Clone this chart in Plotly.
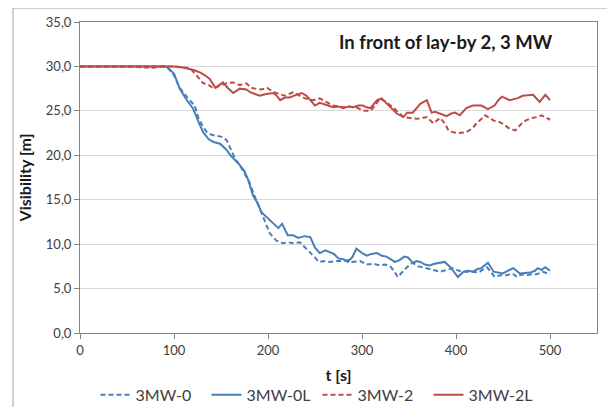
import plotly.graph_objects as go

# 3MW-0 (blue dashed)
t_0 = [0, 92, 100, 106, 115, 122, 126, 131, 135, 140, 145, 150, 156, 161, 165, 170, 175, 180, 185, 190,
       195, 202, 209, 216, 222, 227, 234, 240, 245, 250, 254, 260, 266, 273, 280, 285, 289, 294, 298, 305,
       312, 319, 325, 330, 334, 338, 342, 346, 350, 354, 360, 365, 369, 376, 383, 390, 397, 403, 410, 417,
       424, 428, 433, 437, 441, 447, 454, 460, 465, 470, 475, 480, 486, 492, 498, 500]
v_0 = [30, 30, 29.0, 27.6, 26.4, 25.6, 24.2, 23.2, 22.6, 22.3, 22.2, 22.1, 21.7, 20.6, 19.6, 18.9, 18.0, 17.0, 15.6, 14.3,
       13.0, 11.2, 10.4, 10.1, 10.2, 10.1, 10.2, 9.6, 9.0, 8.5, 8.0, 8.1, 8.0, 8.1, 8.1, 8.2, 8.0, 8.1, 8.1, 7.7,
       7.8, 7.6, 7.7, 7.5, 7.0, 6.3, 6.8, 7.2, 7.6, 7.9, 7.5, 7.4, 7.3, 7.1, 6.9, 7.1, 7.3, 7.0, 6.9, 6.9,
       6.8, 7.1, 7.4, 6.9, 6.3, 6.5, 6.5, 6.7, 6.3, 6.6, 6.5, 6.6, 6.6, 6.9, 6.7, 6.6]

# 3MW-0L (blue solid)
t_0L = [0, 92, 100, 106, 113, 120, 126, 131, 137, 142, 149, 156, 160, 165, 170, 175, 179, 184, 189, 193,
        199, 205, 211, 215, 221, 227, 232, 239, 245, 250, 255, 261, 266, 270, 275, 280, 285, 290, 294, 300,
        305, 310, 316, 321, 326, 331, 335, 340, 345, 349, 354, 358, 362, 367, 372, 377, 381, 388, 394, 398,
        402, 408, 413, 418, 423, 427, 431, 434, 440, 445, 450, 455, 461, 468, 474, 479, 484, 487, 491, 495, 500]
v_0L = [30, 30, 29.2, 27.5, 26.3, 25.3, 23.8, 22.6, 21.8, 21.5, 21.3, 20.6, 20.0, 19.5, 18.9, 18.2, 17.2, 15.5, 14.6, 13.6,
        13.0, 12.3, 11.8, 12.3, 11.0, 11.0, 10.7, 10.9, 10.8, 9.6, 9.0, 9.3, 9.1, 8.9, 8.4, 8.3, 8.0, 8.6, 9.5, 9.0,
        8.7, 8.9, 9.0, 8.7, 8.6, 8.3, 8.0, 8.2, 8.6, 8.5, 7.9, 8.1, 8.0, 7.7, 7.6, 7.8, 7.9, 8.0, 7.4, 6.9,
        6.3, 6.9, 7.0, 6.9, 7.2, 7.3, 7.6, 7.9, 6.9, 6.8, 6.7, 7.0, 7.3, 6.7, 6.8, 6.8, 7.0, 7.3, 7.1, 7.4, 7.0]

# 3MW-2 (red dashed)
t_2 = [0, 60, 66, 72, 78, 84, 100, 110, 117, 124, 131, 136, 142, 148, 156, 163, 170, 177, 182, 186,
       193, 199, 206, 212, 218, 227, 232, 237, 243, 248, 255, 262, 269, 275, 280, 286, 291, 296, 301, 309,
       314, 319, 324, 328, 333, 337, 344, 351, 358, 364, 369, 376, 383, 388, 392, 397, 402, 411, 417, 422,
       426, 431, 436, 440, 445, 449, 457, 463, 471, 476, 481, 486, 491, 496, 500]
v_2 = [30, 30, 29.85, 29.9, 29.85, 30, 30, 29.9, 29.8, 29.0, 28.1, 28.0, 27.5, 27.8, 28.1, 28.2, 27.9, 28.1, 27.6, 27.5,
       27.4, 27.6, 27.1, 26.9, 26.7, 27.1, 26.8, 26.5, 26.3, 26.2, 26.4, 26.0, 25.6, 25.5, 25.4, 25.5, 25.4, 25.3, 25.0, 25.0,
       25.6, 26.4, 26.1, 25.8, 25.4, 25.0, 24.3, 24.2, 24.1, 24.2, 24.3, 23.6, 24.2, 23.6, 22.8, 22.6, 22.5, 22.6, 23.0, 23.6,
       24.0, 24.5, 24.2, 23.9, 23.8, 23.6, 23.0, 22.8, 23.7, 24.0, 24.2, 24.3, 24.5, 24.2, 24.0]

# 3MW-2L (red solid)
t_2L = [0, 100, 108, 114, 121, 128, 133, 138, 144, 148, 152, 157, 163, 170, 177, 181, 186, 191, 198, 206,
        210, 213, 218, 223, 230, 236, 241, 246, 250, 255, 259, 264, 269, 275, 280, 286, 291, 296, 301, 305,
        309, 313, 316, 321, 325, 328, 333, 337, 344, 348, 354, 358, 362, 369, 374, 378, 383, 390, 395, 399,
        404, 411, 418, 423, 427, 434, 441, 445, 449, 457, 465, 471, 477, 482, 489, 495, 500]
v_2L = [30, 30, 29.9, 29.8, 29.6, 29.3, 29.0, 28.6, 27.6, 27.9, 28.2, 27.6, 27.0, 27.5, 27.4, 27.1, 26.9, 26.7, 26.9, 27.0,
        26.6, 26.2, 26.5, 26.5, 26.8, 27.0, 26.7, 26.1, 25.6, 25.9, 25.8, 25.6, 25.4, 25.5, 25.3, 25.5, 25.4, 25.6, 25.6, 25.4,
        25.3, 25.8, 26.2, 26.4, 26.0, 25.6, 25.1, 24.7, 24.3, 24.8, 24.8, 25.3, 25.8, 26.2, 24.8, 24.9, 24.7, 24.4, 24.7, 24.8,
        24.5, 25.3, 25.6, 25.6, 25.6, 25.2, 25.6, 26.2, 26.6, 26.2, 26.4, 26.7, 26.8, 26.8, 26.0, 26.8, 26.2]

x_ticks = [0, 100, 200, 300, 400, 500]
y_ticks = [0, 5, 10, 15, 20, 25, 30, 35]

BLUE = "#4A7EBB"
RED = "#BE4B48"
FONT = "Lato, Open Sans, sans-serif"
DASH = "5px,3px"

fig = go.Figure()
fig.add_trace(go.Scatter(x=t_0, y=v_0, mode="lines", name="3MW-0",
                         line=dict(color=BLUE, width=2, dash=DASH)))
fig.add_trace(go.Scatter(x=t_0L, y=v_0L, mode="lines", name="3MW-0L",
                         line=dict(color=BLUE, width=2)))
fig.add_trace(go.Scatter(x=t_2, y=v_2, mode="lines", name="3MW-2",
                         line=dict(color=RED, width=2, dash=DASH)))
fig.add_trace(go.Scatter(x=t_2L, y=v_2L, mode="lines", name="3MW-2L",
                         line=dict(color=RED, width=2)))

fig.update_layout(
    width=607, height=399,
    margin=dict(l=72, r=18, t=14, b=74, autoexpand=False),
    paper_bgcolor="white", plot_bgcolor="white",
    separators=", ",
    font=dict(family=FONT, color="#404040", size=13),
    showlegend=True,
    legend=dict(orientation="h", x=0.03, xanchor="left", y=-0.199, yanchor="middle",
                font=dict(size=16, color="#404040"), itemwidth=30,
                entrywidth=66, tracegroupgap=0,
                bgcolor="rgba(0,0,0,0)"),
    xaxis=dict(range=[0, 550], tickvals=x_ticks, ticks="outside", ticklen=5, tickcolor="#868686",
               showline=True, linecolor="#868686", linewidth=1, mirror=True,
               showgrid=False, zeroline=False, automargin=False,
               tickfont=dict(size=13, color="#404040"),
               title=dict(text="<b>t [s]</b>", font=dict(size=16, color="#1a1a1a"), standoff=13)),
    yaxis=dict(range=[0, 35], tickvals=y_ticks, tickformat=".1f", ticks="outside", ticklen=5,
               tickcolor="#868686",
               showline=True, linecolor="#868686", linewidth=1, mirror=True,
               showgrid=True, gridcolor="#D9D9D9", gridwidth=1, zeroline=False, automargin=False,
               tickfont=dict(size=13, color="#404040"),
               title=dict(text="<b>Visibility [m]</b>", font=dict(size=16, color="#1a1a1a"), standoff=10)),
    annotations=[dict(text="<b>In front of lay-by 2, 3 MW</b>", xref="paper", yref="paper",
                      x=0.708, y=0.936, xanchor="center", yanchor="middle", showarrow=False,
                      font=dict(size=18.5, color="#1a1a1a", family=FONT))],
    shapes=[dict(type="rect", xref="paper", yref="paper", x0=-0.1296, x1=1.027, y0=-0.30, y1=1.045,
                 line=dict(color="#A0A0A0", width=1), fillcolor="rgba(0,0,0,0)", layer="below")],
)

fig.write_html("out.html")
